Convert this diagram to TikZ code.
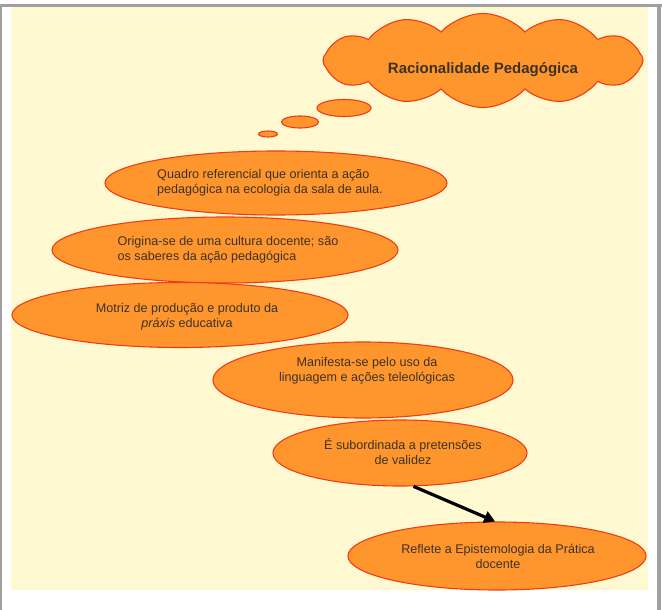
\documentclass[tikz,border=0pt]{standalone}
\usepackage{fontspec}
\setmainfont{Liberation Sans}
\usetikzlibrary{shapes.geometric,shapes.symbols,arrows.meta}
\definecolor{bg}{RGB}{255,249,210}
\definecolor{orf}{RGB}{255,150,45}
\definecolor{ors}{RGB}{240,60,20}
\definecolor{txt}{RGB}{60,50,35}
\definecolor{frm}{RGB}{160,160,160}
\tikzset{
  bub/.style={ellipse, draw=ors, fill=orf, line width=1.1pt, inner sep=0pt},
  lbl/.style={text=txt, font=\fontsize{12.6}{15}\selectfont, inner sep=0pt},
}
\begin{document}
\begin{tikzpicture}[x=1pt,y=-1pt]
\useasboundingbox (0,0) rectangle (662,610);
\fill[white] (0,0) rectangle (662,610);
\fill[frm] (0,4) rectangle (662,7);
\fill[frm] (0,4) rectangle (2,610);
\fill[frm] (657,4) rectangle (661,610);
\fill[bg] (11,7) rectangle (648,590);
% cloud
\node[cloud, cloud puffs=12, cloud puff arc=95, cloud ignores aspect, draw=ors, fill=orf, line width=1.1pt,
      minimum width=320pt, minimum height=94pt, inner sep=0pt] (c) at (483,60.5) {};
\node[text=txt, font=\bfseries\fontsize{15}{17}\selectfont, inner sep=0pt] (t0) at (483,70) {Racionalidade Pedagógica};
% thought bubbles
\node[bub, minimum width=54pt, minimum height=17pt] (b1) at (344,108) {};
\node[bub, minimum width=37pt, minimum height=12pt] (b2) at (300,122) {};
\node[bub, minimum width=19pt, minimum height=6pt] (b3) at (268,134) {};
% ellipses
\node[bub, minimum width=342pt, minimum height=64pt] (e1) at (276,183) {};
\node[lbl, align=left] (t1) at (270,183) {Quadro referencial que orienta a ação\\pedagógica na ecologia da sala de aula.};
\node[bub, minimum width=346pt, minimum height=66pt] (e2) at (225,250) {};
\node[lbl, align=left] (t2) at (228,250) {Origina-se de uma cultura docente; são\\os saberes da ação pedagógica};
\node[bub, minimum width=336pt, minimum height=65pt] (e3) at (180,315) {};
\node[lbl, align=center] (t3) at (187,317) {Motriz de produção e produto da\\\textit{práxis} educativa};
\node[bub, minimum width=300pt, minimum height=76pt] (e4) at (363,380) {};
\node[lbl, align=center] (t4) at (367,371) {Manifesta-se pelo uso da\\linguagem e ações teleológicas};
\node[bub, minimum width=254pt, minimum height=66pt] (e5) at (400,453) {};
\node[lbl, align=center] (t5) at (403,452) {É subordinada a pretensões\\de validez};
\node[bub, minimum width=298pt, minimum height=68pt] (e6) at (497,556) {};
\node[lbl, align=center] (t6) at (498,556) {Reflete a Epistemologia da Prática\\docente};
% arrow
\draw[line width=3.2pt, -{Triangle[length=11pt,width=12pt]}] (e5.-68) -- (e6.93);
\end{tikzpicture}
\end{document}
